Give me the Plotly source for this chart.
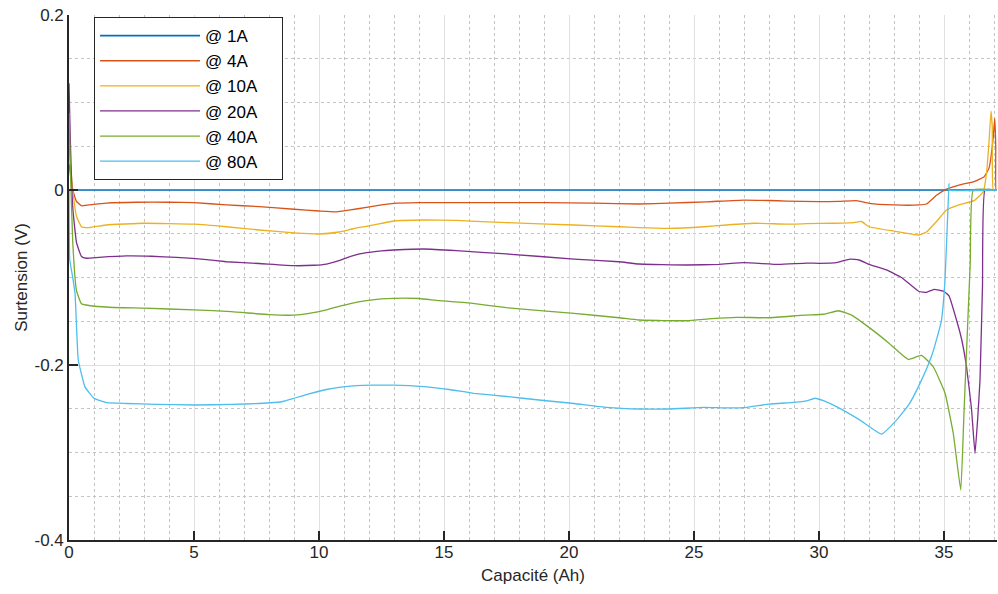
import plotly.graph_objects as go

# ---- data ----
names = ["@ 1A", "@ 4A", "@ 10A", "@ 20A", "@ 40A", "@ 80A"]
colors = ["#0072BD", "#D95319", "#EDB120", "#7E2F8E", "#77AC30", "#4DBEEE"]

cap_1a = [0, 37.12]
v_1a = [0, 0]

cap_4a = [0, 0.15, 0.3, 0.5, 0.8, 1.5, 2.7, 4.0, 5.0, 6.3, 7.6, 9.0, 10.0, 10.7, 11.2, 11.9,
          12.5, 13.0, 14.0, 15.0, 17.0, 19.0, 21.0, 22.8, 24.0, 25.5, 27.0, 28.0, 28.7, 30.0,
          30.8, 31.5, 32.0, 33.0, 34.0, 34.3, 34.7, 35.1, 35.6, 36.2, 36.6, 36.8, 36.97, 37.03,
          37.07, 37.08, 37.12]
v_4a = [0.03, 0.0, -0.013, -0.018, -0.017, -0.015, -0.014, -0.014, -0.0145, -0.017, -0.019,
        -0.022, -0.024, -0.025, -0.023, -0.0198, -0.017, -0.0152, -0.0145, -0.0145, -0.0145,
        -0.0145, -0.015, -0.016, -0.015, -0.0135, -0.0115, -0.012, -0.0126, -0.0133, -0.013,
        -0.0122, -0.0152, -0.0171, -0.0171, -0.016, -0.006, 0.001, 0.0057, 0.0095, 0.015,
        0.025, 0.06, 0.082, 0.05, 0.0, 0.0]

cap_10a = [0, 0.15, 0.3, 0.5, 0.8, 1.5, 3.0, 5.0, 6.3, 7.6, 9.0, 10.0, 10.8, 11.4, 12.0, 13.0,
           14.2, 15.5, 17.5, 20.2, 22.0, 22.8, 24.0, 25.4, 26.3, 27.4, 28.7, 29.5, 30.6, 31.4,
           31.7, 32.0, 33.0, 34.0, 34.3, 34.7, 35.1, 35.6, 36.2, 36.57, 36.7, 36.8, 36.88,
           36.93, 36.97, 37.12]
v_10a = [0.05, 0.0, -0.03, -0.042, -0.043, -0.04, -0.038, -0.039, -0.042, -0.0457, -0.049,
         -0.0503, -0.048, -0.044, -0.041, -0.0354, -0.0343, -0.0348, -0.0373, -0.04, -0.042,
         -0.043, -0.0438, -0.042, -0.040, -0.038, -0.039, -0.0385, -0.038, -0.0373, -0.036,
         -0.042, -0.047, -0.0514, -0.048, -0.036, -0.0229, -0.0171, -0.0122, -0.002, 0.019,
         0.055, 0.09, 0.072, 0.0, 0.0]

cap_20a = [0, 0.05, 0.15, 0.3, 0.5, 0.7, 1.2, 2.3, 3.3, 4.3, 5.3, 6.3, 7.6, 9.0, 9.8, 10.3,
           10.8, 11.3, 11.9, 12.5, 13.0, 14.2, 15.5, 17.5, 20.2, 22.0, 22.8, 24.7, 26.0, 27.0,
           28.4, 29.5, 30.0, 30.7, 31.24, 31.6, 32.0, 32.7, 33.3, 34.0, 34.3, 34.6, 35.0, 35.2,
           35.5, 35.7, 35.9, 36.1, 36.24, 36.35, 36.44, 36.54, 36.64, 37.12]
v_20a = [0.122, 0.06, -0.02, -0.06, -0.076, -0.078, -0.077, -0.0754, -0.0757, -0.077, -0.079,
         -0.082, -0.084, -0.0865, -0.086, -0.0846, -0.0808, -0.0755, -0.0716, -0.0695, -0.0686,
         -0.0674, -0.0693, -0.0731, -0.0789, -0.082, -0.0846, -0.0857, -0.085, -0.083, -0.085,
         -0.0835, -0.0838, -0.083, -0.0789, -0.080, -0.085, -0.0914, -0.1, -0.116, -0.117,
         -0.1135, -0.116, -0.121, -0.1486, -0.17, -0.2019, -0.25, -0.301, -0.26, -0.217,
         -0.109, 0.0, 0.0]

cap_40a = [0, 0.05, 0.15, 0.3, 0.5, 0.8, 1.6, 3.0, 5.0, 6.5, 8.0, 9.0, 9.6, 10.3, 10.8, 11.3,
           11.9, 12.5, 13.0, 14.0, 14.8, 16.0, 17.5, 20.2, 22.0, 22.8, 24.7, 25.7, 26.7, 28.0,
           29.4, 30.2, 30.77, 31.3, 32.0, 32.8, 33.57, 34.1, 34.57, 35.04, 35.37, 35.67, 35.8,
           35.92, 36.05, 36.17, 37.12]
v_40a = [0.088, 0.03, -0.06, -0.115, -0.13, -0.132, -0.134, -0.135, -0.137, -0.139, -0.1425,
         -0.143, -0.141, -0.137, -0.133, -0.1295, -0.1265, -0.1245, -0.1238, -0.124, -0.1265,
         -0.129, -0.1345, -0.141, -0.146, -0.1486, -0.1494, -0.147, -0.1455, -0.146, -0.143,
         -0.142, -0.138, -0.143, -0.157, -0.175, -0.1935, -0.189, -0.202, -0.232, -0.278,
         -0.343, -0.254, -0.172, -0.083, 0.0, 0.0]

cap_80a = [0, 0.03, 0.12, 0.24, 0.37, 0.64, 1.0, 1.5, 2.3, 3.5, 5.0, 6.5, 7.6, 8.5, 9.0, 9.6,
           10.3, 10.8, 11.5, 12.2, 13.0, 14.2, 15.2, 16.2, 17.5, 18.8, 20.2, 21.5, 22.8, 24.0,
           25.4, 26.2, 27.0, 28.0, 29.0, 29.5, 29.84, 30.2, 30.7, 31.64, 32.5, 33.1, 33.6, 34.04,
           34.5, 34.7, 34.9, 35.04, 35.14, 35.2, 35.21, 37.12]
v_80a = [0, -0.08, -0.095, -0.118, -0.194, -0.225, -0.238, -0.243, -0.244, -0.245, -0.2457,
         -0.245, -0.244, -0.242, -0.238, -0.233, -0.228, -0.2255, -0.2235, -0.223, -0.223,
         -0.2248, -0.228, -0.2324, -0.236, -0.24, -0.244, -0.2484, -0.2503, -0.2503, -0.2484,
         -0.249, -0.2488, -0.2446, -0.2427, -0.241, -0.238, -0.241, -0.2476, -0.263, -0.279,
         -0.263, -0.245, -0.221, -0.19, -0.171, -0.1486, -0.103, -0.034, 0.0076, 0.0, 0.0]

x_ticks = [0, 5, 10, 15, 20, 25, 30, 35]
y_ticks = [-0.4, -0.2, 0, 0.2]
y_ticklabels = ["-0.4", "-0.2", "0", "0.2"]

series_x = [cap_1a, cap_4a, cap_10a, cap_20a, cap_40a, cap_80a]
series_y = [v_1a, v_4a, v_10a, v_20a, v_40a, v_80a]

FONT = "Arial, Liberation Sans, Helvetica, sans-serif"
AX = "#262626"
FS = 17
PAD = "\u00a0" * 4  # right padding inside the legend box

fig = go.Figure()
for i, (xs, ys) in enumerate(zip(series_x, series_y)):
    fig.add_trace(go.Scatter(
        x=xs, y=ys, mode="lines", name=names[i] + PAD,
        line=dict(color=colors[i], width=1.7 if i == 0 else 1.3,
                  shape="spline", smoothing=0.35),
    ))

fig.update_layout(
    width=998, height=594,
    margin=dict(l=69, r=1, t=15, b=54),
    paper_bgcolor="white", plot_bgcolor="white",
    font=dict(family=FONT, size=FS, color=AX),
    showlegend=True,
    legend=dict(
        x=0.027, y=0.996, xanchor="left", yanchor="top",
        bgcolor="white", bordercolor=AX, borderwidth=1,
        font=dict(family=FONT, size=FS, color="black"),
        itemwidth=100,
    ),
    xaxis=dict(
        range=[0, 37.12], tickvals=x_ticks, ticks="inside", ticklen=9, tickwidth=1.6,
        tickcolor=AX, showline=True, linecolor=AX, linewidth=1.6, mirror=False,
        showgrid=True, gridcolor="#e0e0e0", gridwidth=1.3, zeroline=False, automargin=False,
        ticklabelstandoff=-4,
        minor=dict(dtick=1, showgrid=True, gridcolor="#c4c4c4", griddash="dot", gridwidth=1),
        title=dict(text="Capacité (Ah)", font=dict(size=FS, color=AX), standoff=8),
        tickfont=dict(size=FS, color=AX),
    ),
    yaxis=dict(
        range=[-0.4, 0.2], tickvals=y_ticks, ticktext=y_ticklabels, ticks="inside",
        ticklen=9, tickwidth=1.6, tickcolor=AX, showline=True, linecolor=AX, linewidth=1.6,
        mirror=False, showgrid=True, gridcolor="#e0e0e0", gridwidth=1.3, zeroline=False,
        automargin=False,
        minor=dict(dtick=0.05, showgrid=True, gridcolor="#c4c4c4", griddash="dot", gridwidth=1),
        title=dict(text="Surtension (V)", font=dict(size=FS, color=AX), standoff=3),
        tickfont=dict(size=FS, color=AX),
    ),
)

fig.write_html("out.html", config={"displayModeBar": False},
               post_script="document.body.style.margin='0';")
